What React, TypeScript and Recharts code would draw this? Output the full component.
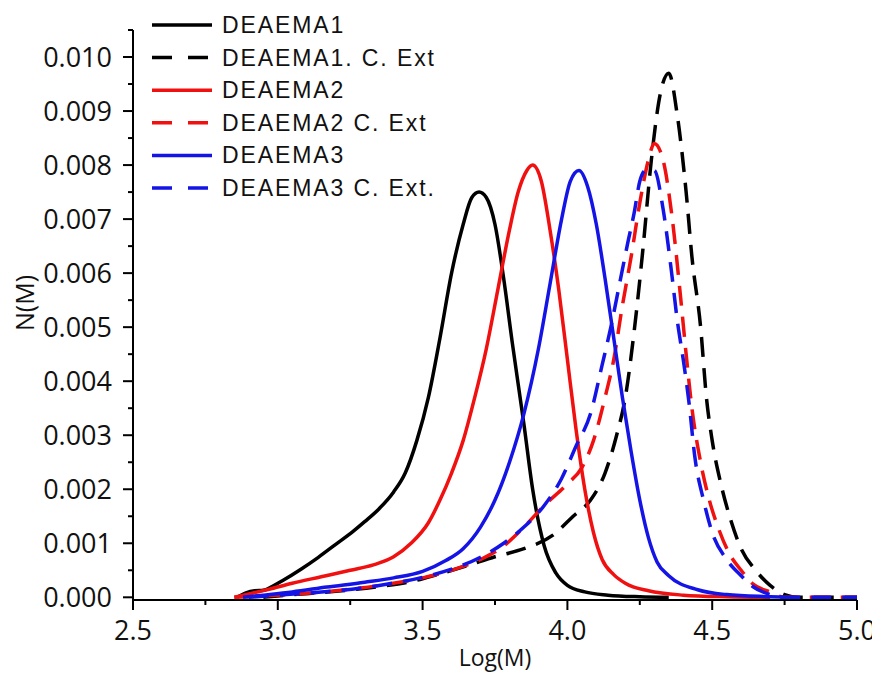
import React from "react";
import { Label, Legend, Line, LineChart, XAxis, YAxis } from "recharts";

// [Log(M), N(M)] pairs
const deaema1 = [
  [2.86, 0], [2.89, 0.00008], [2.92, 0.00012], [2.95, 0.00013], [2.98, 0.0002],
  [3.02, 0.00032], [3.08, 0.00052], [3.14, 0.00074], [3.2, 0.00098], [3.26, 0.00122],
  [3.3, 0.0014], [3.35, 0.00164], [3.4, 0.00195], [3.44, 0.0023], [3.48, 0.0029],
  [3.52, 0.0037], [3.56, 0.0048], [3.6, 0.006], [3.64, 0.0069], [3.67, 0.0074],
  [3.695, 0.0075], [3.72, 0.0074], [3.75, 0.0069], [3.78, 0.0059], [3.81, 0.0047],
  [3.85, 0.0032], [3.88, 0.002], [3.92, 0.00095], [3.96, 0.00045], [4.0, 0.00022],
  [4.06, 0.0001], [4.14, 0.00004], [4.25, 0.00001], [4.35, 0],
];
const deaema1Ext = [
  [2.95, 0], [3.05, 0.00005], [3.2, 0.00011], [3.35, 0.0002], [3.45, 0.00028],
  [3.55, 0.00042], [3.65, 0.00058], [3.75, 0.00075], [3.85, 0.0009], [3.95, 0.00115],
  [4.02, 0.0015], [4.08, 0.0018], [4.13, 0.0023], [4.17, 0.003], [4.2, 0.0037],
  [4.23, 0.0049], [4.26, 0.0064], [4.29, 0.0081], [4.32, 0.0093], [4.35, 0.0097],
  [4.38, 0.0089], [4.41, 0.0075], [4.43, 0.0063], [4.46, 0.005], [4.48, 0.0037],
  [4.5, 0.0029], [4.53, 0.0021], [4.56, 0.0015], [4.6, 0.0009], [4.65, 0.0005],
  [4.7, 0.00022], [4.75, 0.00005], [4.8, 0], [5.0, 0],
];
const deaema2 = [
  [2.85, 0], [2.9, 0.00006], [2.97, 0.00015], [3.05, 0.00026], [3.15, 0.00038],
  [3.25, 0.0005], [3.33, 0.0006], [3.4, 0.00075], [3.46, 0.001], [3.52, 0.00138],
  [3.56, 0.0018], [3.6, 0.0023], [3.64, 0.0029], [3.68, 0.0037], [3.72, 0.0046],
  [3.76, 0.0057], [3.8, 0.0068], [3.83, 0.0075], [3.86, 0.0079], [3.88, 0.008],
  [3.91, 0.0077], [3.94, 0.0068], [3.97, 0.0057], [4.0, 0.0044], [4.03, 0.0031],
  [4.06, 0.002], [4.09, 0.0012], [4.12, 0.0007], [4.16, 0.00042], [4.2, 0.00026],
  [4.28, 0.00012], [4.4, 0.00004], [4.55, 0.00001], [4.7, 0],
];
const deaema2Ext = [
  [2.85, 0], [3.0, 0.00004], [3.2, 0.00012], [3.35, 0.00022], [3.5, 0.00036],
  [3.6, 0.0005], [3.7, 0.0007], [3.78, 0.00095], [3.85, 0.0013], [3.92, 0.0017],
  [4.0, 0.0021], [4.05, 0.0024], [4.09, 0.0029], [4.13, 0.0037], [4.16, 0.0044],
  [4.19, 0.0054], [4.22, 0.0063], [4.25, 0.0073], [4.28, 0.0081], [4.3, 0.0084],
  [4.33, 0.0081], [4.36, 0.0071], [4.39, 0.0056], [4.41, 0.0045], [4.43, 0.0035],
  [4.46, 0.0025], [4.49, 0.0018], [4.52, 0.0013], [4.56, 0.0008], [4.6, 0.0005],
  [4.64, 0.00025], [4.7, 0.0001], [4.75, 0], [5.0, 0],
];
const deaema3 = [
  [2.88, 0], [2.95, 0.00004], [3.05, 0.0001], [3.17, 0.00019], [3.3, 0.00028],
  [3.4, 0.00036], [3.5, 0.00048], [3.58, 0.00068], [3.64, 0.0009], [3.7, 0.0013],
  [3.75, 0.0018], [3.8, 0.0025], [3.85, 0.0034], [3.9, 0.0046], [3.94, 0.0058],
  [3.98, 0.007], [4.01, 0.0077], [4.04, 0.0079], [4.07, 0.0076], [4.1, 0.0069],
  [4.13, 0.0059], [4.16, 0.0048], [4.19, 0.0037], [4.22, 0.0027], [4.25, 0.0018],
  [4.28, 0.0011], [4.31, 0.00065], [4.35, 0.0004], [4.45, 0.00014], [4.55, 0.00005],
  [4.7, 0.00001], [4.75, 0],
];
const deaema3Ext = [
  [2.9, 0], [3.0, 0.00004], [3.2, 0.00012], [3.35, 0.00022], [3.5, 0.00037],
  [3.6, 0.00052], [3.7, 0.00074], [3.78, 0.001], [3.85, 0.0013], [3.92, 0.0017],
  [3.98, 0.0022], [4.03, 0.0028], [4.08, 0.0034], [4.12, 0.0043], [4.15, 0.005],
  [4.18, 0.0058], [4.21, 0.0066], [4.23, 0.0071], [4.25, 0.0077], [4.27, 0.0079],
  [4.3, 0.0079], [4.33, 0.0072], [4.36, 0.006], [4.38, 0.0051], [4.4, 0.0044],
  [4.42, 0.0036], [4.44, 0.0026], [4.47, 0.0018], [4.5, 0.0012], [4.55, 0.0007],
  [4.6, 0.0004], [4.64, 0.0002], [4.7, 0.00005], [4.75, 0], [5.0, 0],
];

const seriesNames = [
  "DEAEMA1",
  "DEAEMA1. C. Ext",
  "DEAEMA2",
  "DEAEMA2 C. Ext",
  "DEAEMA3",
  "DEAEMA3 C. Ext.",
];

const xTicks = [2.5, 2.75, 3.0, 3.25, 3.5, 3.75, 4.0, 4.25, 4.5, 4.75, 5.0];
const yTicks = [
  0, 0.0005, 0.001, 0.0015, 0.002, 0.0025, 0.003, 0.0035, 0.004, 0.0045, 0.005,
  0.0055, 0.006, 0.0065, 0.007, 0.0075, 0.008, 0.0085, 0.009, 0.0095, 0.01, 0.0105,
];

const series = [
  { name: seriesNames[0], points: deaema1, color: "#000000", dashed: false },
  { name: seriesNames[1], points: deaema1Ext, color: "#000000", dashed: true },
  { name: seriesNames[2], points: deaema2, color: "#f01010", dashed: false },
  { name: seriesNames[3], points: deaema2Ext, color: "#f01010", dashed: true },
  { name: seriesNames[4], points: deaema3, color: "#1414e6", dashed: false },
  { name: seriesNames[5], points: deaema3Ext, color: "#1414e6", dashed: true },
];

const tickFont = "'Open Sans', sans-serif";

const XTick = (props: any) => {
  const { x, y, payload } = props;
  const v = payload.value;
  const major = Math.abs(v * 2 - Math.round(v * 2)) < 1e-6;
  return (
    <g>
      <line x1={x} y1={y} x2={x} y2={y + (major ? 10 : 5)} stroke="#000" strokeWidth={2} />
      {major && (
        <text x={x} y={y + 40} textAnchor="middle" fontSize={27} fontFamily={tickFont} fill="#111">
          {v.toFixed(1)}
        </text>
      )}
    </g>
  );
};

const YTick = (props: any) => {
  const { x, y, payload } = props;
  const v = payload.value;
  const major = Math.abs(v * 1000 - Math.round(v * 1000)) < 1e-6;
  return (
    <g>
      <line x1={x - (major ? 10 : 5)} y1={y} x2={x} y2={y} stroke="#000" strokeWidth={2} />
      {major && (
        <text x={x - 21} y={y + 10} textAnchor="end" fontSize={27} fontFamily={tickFont} fill="#111">
          {v.toFixed(3)}
        </text>
      )}
    </g>
  );
};

const LegendBox = () => (
  <svg width={340} height={210}>
    {series.map((s, i) => {
      const cy = 17 + i * 32.6;
      return (
        <g key={s.name}>
          <line
            x1={0}
            y1={cy}
            x2={60}
            y2={cy}
            stroke={s.color}
            strokeWidth={3.5}
            strokeDasharray={s.dashed ? "20 16" : undefined}
          />
          <text
            x={70}
            y={cy + 8}
            fontSize={23}
            letterSpacing={1.9}
            fontFamily="'Liberation Sans', Arial, sans-serif"
            fill="#111"
          >
            {s.name}
          </text>
        </g>
      );
    })}
  </svg>
);

export default function App() {
  return (
    <LineChart width={872} height={667} margin={{ top: 22, right: 23, bottom: 5, left: 15 }}>
      <XAxis
        type="number"
        dataKey="x"
        domain={[2.5, 5.0]}
        ticks={xTicks}
        interval={0}
        tickSize={0}
        tickMargin={0}
        tick={<XTick />}
        height={70}
        stroke="#000"
        strokeWidth={2}
        allowDataOverflow
      >
        <Label
          value="Log(M)"
          position="insideBottom"
          offset={4}
          style={{ fontSize: 23, fontFamily: tickFont, fill: "#111" }}
        />
      </XAxis>
      <YAxis
        type="number"
        dataKey="y"
        domain={[-0.00005, 0.0105]}
        ticks={yTicks}
        interval={0}
        tickSize={0}
        tickMargin={0}
        tick={<YTick />}
        width={110}
        stroke="#000"
        strokeWidth={2}
        allowDataOverflow
      >
        <Label
          content={(p: any) => {
            const vb = p.viewBox;
            const cx = vb.x + 1;
            const cy = vb.y + vb.height / 2 - 12;
            return (
              <text
                x={cx}
                y={cy}
                transform={`rotate(-90, ${cx}, ${cy})`}
                textAnchor="middle"
                dominantBaseline="central"
                fontSize={25}
                fontFamily={tickFont}
                fill="#111"
              >
                N(M)
              </text>
            );
          }}
        />
      </YAxis>
      <Legend
        layout="horizontal"
        verticalAlign="middle"
        align="center"
        wrapperStyle={{ position: "absolute", left: 144, top: 0, width: 340, height: 210 }}
        content={<LegendBox />}
      />
      {series.map((s) => (
        <Line
          key={s.name}
          name={s.name}
          data={s.points.map(([x, y]) => ({ x, y }))}
          dataKey="y"
          type="monotone"
          stroke={s.color}
          strokeWidth={3.5}
          strokeDasharray={s.dashed ? "20 11" : undefined}
          dot={false}
          activeDot={false}
          isAnimationActive={false}
        />
      ))}
    </LineChart>
  );
}
